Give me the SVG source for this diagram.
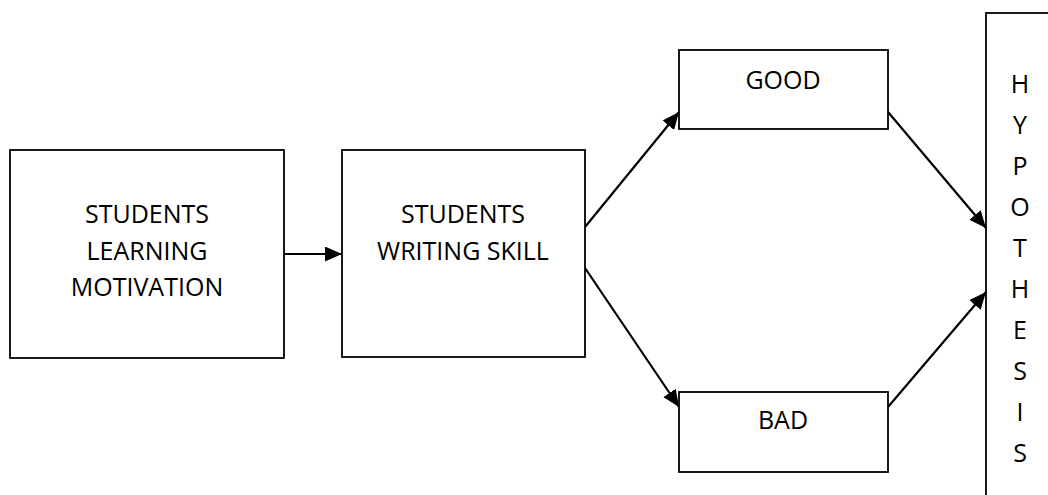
<svg xmlns="http://www.w3.org/2000/svg" width="1048" height="495" viewBox="0 0 1048 495">
<style>
.box{fill:#fff;stroke:#000;stroke-width:1.8}
.t{font-family:"Open Sans","Noto Sans",sans-serif;font-size:25px;fill:#000;text-anchor:middle}
.c{stroke:#000;stroke-width:2.2;fill:none;marker-end:url(#ah)}
</style>
<defs>
<marker id="ah" markerUnits="userSpaceOnUse" markerWidth="18" markerHeight="16" refX="17" refY="7.5" orient="auto">
<path d="M0,0 L17,7.5 L0,15 Z" fill="#000"/>
</marker>
</defs>
<rect width="1048" height="495" fill="#fff"/>
<g id="connectors">
<line class="c" x1="284" y1="254" x2="342" y2="254"/>
<line class="c" x1="585" y1="227" x2="679" y2="112"/>
<line class="c" x1="585" y1="268" x2="679" y2="407"/>
<line class="c" x1="888" y1="112" x2="986" y2="228"/>
<line class="c" x1="888" y1="407" x2="986" y2="292"/>
</g>
<g id="n1">
<rect class="box" x="10" y="150" width="274" height="208"/>
<text class="t" x="147" y="223">STUDENTS</text>
<text class="t" x="147" y="260">LEARNING</text>
<text class="t" x="147" y="296">MOTIVATION</text>
</g>
<g id="n2">
<rect class="box" x="342" y="150" width="243" height="207"/>
<text class="t" x="463" y="223">STUDENTS</text>
<text class="t" x="463" y="260">WRITING SKILL</text>
</g>
<g id="good">
<rect class="box" x="679" y="50" width="209" height="79"/>
<text class="t" x="783" y="89">GOOD</text>
</g>
<g id="bad">
<rect class="box" x="679" y="392" width="209" height="80"/>
<text class="t" x="783" y="429">BAD</text>
</g>
<g id="hyp">
<rect class="box" x="986" y="13" width="80" height="500"/>
<text class="t" x="1020" y="93">H</text>
<text class="t" x="1020" y="134">Y</text>
<text class="t" x="1020" y="175">P</text>
<text class="t" x="1020" y="216">O</text>
<text class="t" x="1020" y="257">T</text>
<text class="t" x="1020" y="298">H</text>
<text class="t" x="1020" y="339">E</text>
<text class="t" x="1020" y="380">S</text>
<text class="t" x="1020" y="421">I</text>
<text class="t" x="1020" y="462">S</text>
</g>
</svg>
